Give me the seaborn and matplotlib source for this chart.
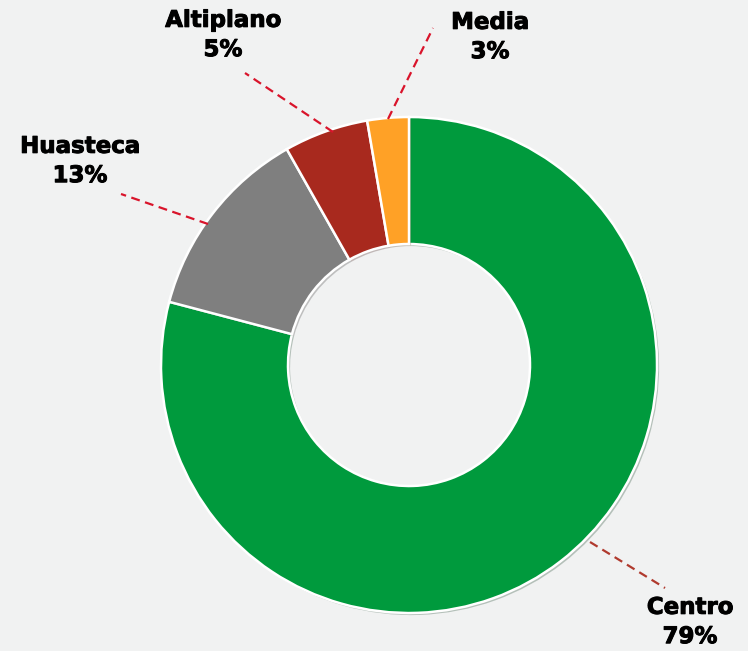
import numpy as np
import matplotlib.pyplot as plt
import matplotlib.patheffects as pe
import seaborn as sns

# datos (porcentaje por región)
regiones = ["Centro", "Huasteca", "Altiplano", "Media"]
valores = [79.1, 12.7, 5.5, 2.7]
etiquetas_pct = ["79%", "13%", "5%", "3%"]
colores = ["#009a3d", "#7f7f7f", "#a8291e", "#ffa126"]

sns.set_theme(style="white")
plt.rcParams["font.family"] = ["DejaVu Sans"]

W, H = 748, 651
fig = plt.figure(figsize=(W / 100, H / 100), dpi=100)
fig.patch.set_facecolor("#f1f2f2")
ax = fig.add_axes([0, 0, 1, 1])
ax.set_facecolor("#f1f2f2")

cx, cy = 409, H - 365
R = 248
wedges, _ = ax.pie(valores, colors=colores, startangle=90, counterclock=False,
                   center=(cx, cy), radius=R,
                   wedgeprops=dict(width=R - 121, edgecolor="white", linewidth=1.8))
for w in wedges:
    w.set_path_effects([pe.SimplePatchShadow(offset=(1.5, -1.5), alpha=0.25),
                        pe.Normal()])

# pie() resets the limits, so set them afterwards
ax.set_xlim(0, W)
ax.set_ylim(0, H)
ax.set_aspect("equal")
ax.axis("off")

# posiciones de etiquetas y líneas guía (en pixeles)
pos_texto = {"Centro": (690, 622), "Huasteca": (80, 161),
             "Altiplano": (223, 35), "Media": (490, 37)}
linea_ini = {"Centro": (590, 542), "Huasteca": (208, 224),
             "Altiplano": (333, 132), "Media": (388, 119)}
linea_fin = {"Centro": (665, 588), "Huasteca": (121, 194),
             "Altiplano": (245, 73), "Media": (433, 28)}
color_linea = {"Centro": "#b03a2e", "Huasteca": "#d9142b",
               "Altiplano": "#d9142b", "Media": "#d9142b"}

for reg, pct in zip(regiones, etiquetas_pct):
    x0, y0 = linea_ini[reg]
    x1, y1 = linea_fin[reg]
    ax.plot([x0, x1], [H - y0, H - y1], ls=(0, (4, 2.5)), lw=1.6,
            color=color_linea[reg])
    tx, ty = pos_texto[reg]
    t = ax.text(tx, H - ty, f"{reg}\n{pct}", ha="center", va="center",
                fontsize=16.5, fontweight="bold", color="black", linespacing=1.35)
    # un poco más grueso, como la fuente original
    t.set_path_effects([pe.withStroke(linewidth=0.7, foreground="black")])

fig.savefig("out.png", dpi=100, facecolor=fig.get_facecolor())
